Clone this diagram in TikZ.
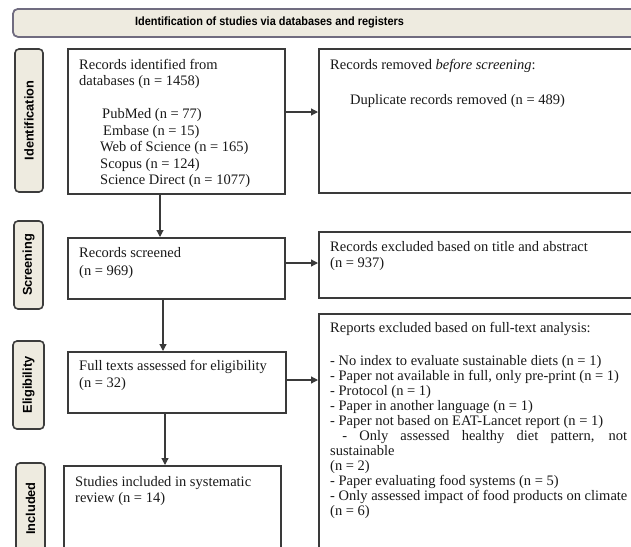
\documentclass[tikz,border=0pt]{standalone}
\usepackage{fontspec}
\usepackage{graphicx}
\setmainfont{Liberation Serif}
\newfontfamily\labfont{Liberation Sans}
\usetikzlibrary{arrows.meta}
\definecolor{labfill}{RGB}{238,235,224}
\definecolor{labc}{RGB}{60,60,60}
\definecolor{headc}{RGB}{112,108,128}
\definecolor{boxc}{RGB}{58,58,58}
\definecolor{txtc}{RGB}{25,25,25}
\tikzset{
  box/.style={draw=boxc, line width=1.8pt, fill=white, rectangle, inner sep=0pt, anchor=north west},
  lab/.style={draw=labc, fill=labfill, rounded corners=4pt, line width=1.6pt, inner sep=0pt,
     rotate=90, font=\labfont\bfseries\fontsize{12.8}{14}\selectfont, text=black},
  head/.style={draw=headc, fill=labfill, rounded corners=5pt, line width=1.8pt, inner sep=0pt, anchor=north west},
  txt/.style={font=\fontsize{14.5}{16.5}\selectfont, text=txtc, inner sep=0pt, anchor=base west},
  arr/.style={draw=boxc, line width=1.2pt, -{Triangle[length=7pt,width=7pt]}}
}
\begin{document}
\begin{tikzpicture}[x=1pt,y=-1pt]
\useasboundingbox (0,0) rectangle (631,546);
\clip (0,0) rectangle (631,546);
% header
\node[head, minimum width=668pt, minimum height=28pt] (H) at (12,8) {};
\node[font=\labfont\bfseries\fontsize{12}{13}\selectfont, text=black, inner sep=0pt] (Ht) at (269.5,22) {\scalebox{0.91}[1]{Identification of studies via databases and registers}};
% side labels
\node[lab, minimum width=143pt, minimum height=28pt] (L1) at (29,120.5) {Identification};
\node[lab, minimum width=88pt, minimum height=29pt] (L2) at (28.5,265) {Screening};
\node[lab, minimum width=88pt, minimum height=31pt] (L3) at (28.5,385) {Eligibility};
\node[lab, minimum width=91pt, minimum height=29pt] (L4) at (30.5,508.5) {Included};
% boxes
\node[box, minimum width=217pt, minimum height=145pt] (A) at (67,48) {};
\node[box, minimum width=217pt, minimum height=61pt] (B) at (67,237) {};
\node[box, minimum width=218pt, minimum height=61pt] (C) at (67,351) {};
\node[box, minimum width=217pt, minimum height=105pt] (D) at (63,465) {};
\node[box, minimum width=362pt, minimum height=144pt] (R1) at (318,48) {};
\node[box, minimum width=362pt, minimum height=66pt] (R2) at (318,231) {};
\node[box, minimum width=362pt, minimum height=257pt] (R3) at (318,313) {};
% texts box A
\node[txt] (a1) at (79,69) {Records identified from};
\node[txt] (a2) at (79,85.5) {databases (n = 1458)};
\node[txt] (a3) at (102,118) {PubMed (n = 77)};
\node[txt] (a4) at (103,135) {Embase (n = 15)};
\node[txt] (a5) at (100,151.5) {Web of Science (n = 165)};
\node[txt] (a6) at (100,168) {Scopus (n = 124)};
\node[txt] (a7) at (100,184) {Science Direct (n = 1077)};
% R1
\node[txt] (r11) at (330,69) {Records removed \textit{before screening}:};
\node[txt] (r12) at (350,104) {Duplicate records removed (n = 489)};
% B
\node[txt] (b1) at (79,257) {Records screened};
\node[txt] (b2) at (79,275) {(n = 969)};
% R2
\node[txt] (r21) at (330,251) {Records excluded based on title and abstract};
\node[txt] (r22) at (330,267) {(n = 937)};
% C
\node[txt] (c1) at (79,370) {Full texts assessed for eligibility};
\node[txt] (c2) at (79,387) {(n = 32)};
% D
\node[txt] (d1) at (75,486) {Studies included in systematic};
\node[txt] (d2) at (75,502) {review (n = 14)};
% R3
\node[txt] (r31) at (330,332) {Reports excluded based on full-text analysis:};
\node[txt] (r32) at (330,365.5) {- No index to evaluate sustainable diets (n = 1)};
\node[txt] (r33) at (330,380.5) {- Paper not available in full, only pre-print (n = 1)};
\node[txt] (r34) at (330,395.5) {- Protocol (n = 1)};
\node[txt] (r35) at (330,410.5) {- Paper in another language (n = 1)};
\node[txt] (r36) at (330,425.5) {- Paper not based on EAT-Lancet report (n = 1)};
\node[txt] (r37) at (330,440.5) {\makebox[297pt][s]{\ - Only assessed healthy diet pattern, not}};
\node[txt] (r38) at (330,455.5) {sustainable};
\node[txt] (r39) at (330,470.5) {(n = 2)};
\node[txt] (r310) at (330,485.5) {- Paper evaluating food systems (n = 5)};
\node[txt] (r311) at (330,500.5) {- Only assessed impact of food products on climate};
\node[txt] (r312) at (330,515.5) {(n = 6)};
% connector guides
\coordinate (y1) at (0,112);
\coordinate (y2) at (0,263);
\coordinate (y3) at (0,380);
\coordinate (x1) at (160,0);
\coordinate (x2) at (163,0);
\coordinate (x3) at (165,0);
% arrows
\draw[arr] (A.east |- y1) -- (R1.west |- y1);
\draw[arr] (A.south -| x1) -- (B.north -| x1);
\draw[arr] (B.east |- y2) -- (R2.west |- y2);
\draw[arr] (B.south -| x2) -- (C.north -| x2);
\draw[arr] (C.east |- y3) -- (R3.west |- y3);
\draw[arr] (C.south -| x3) -- (D.north -| x3);
\end{tikzpicture}
\end{document}
